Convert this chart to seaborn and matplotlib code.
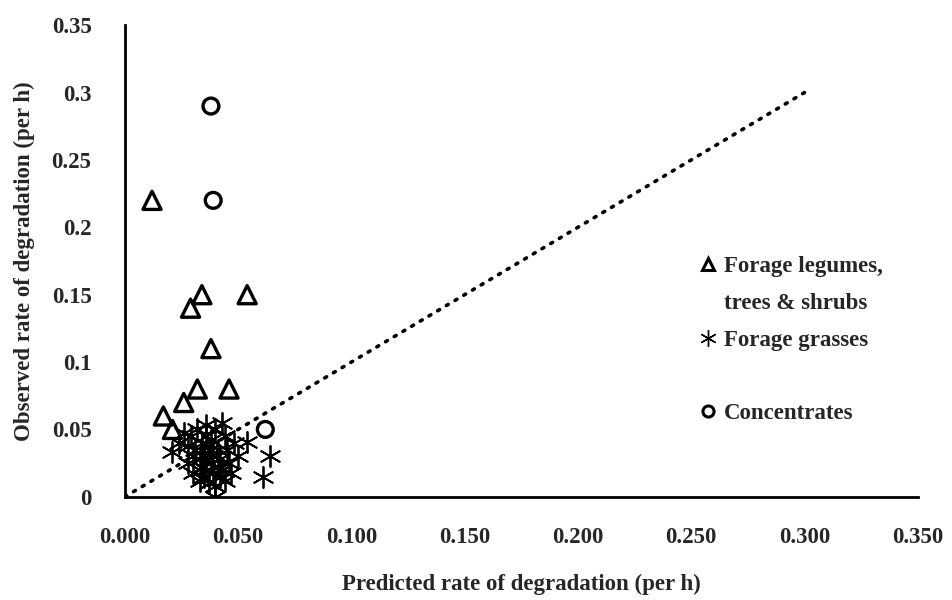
import numpy as np
import pandas as pd
import matplotlib
matplotlib.use("Agg")
import matplotlib.pyplot as plt
import seaborn as sns
from matplotlib.lines import Line2D

# data
legume_x = [0.012, 0.034, 0.029, 0.054, 0.038, 0.032, 0.046, 0.026, 0.017, 0.021]
legume_y = [0.22, 0.15, 0.14, 0.15, 0.11, 0.08, 0.08, 0.07, 0.06, 0.05]

conc_x = [0.038, 0.039, 0.062]
conc_y = [0.29, 0.22, 0.05]

grass_x = [0.021, 0.024, 0.026, 0.028, 0.029, 0.030, 0.031, 0.032, 0.033, 0.033,
           0.034, 0.034, 0.035, 0.035, 0.036, 0.036, 0.037, 0.037, 0.038, 0.038,
           0.039, 0.039, 0.040, 0.040, 0.041, 0.041, 0.042, 0.042, 0.043, 0.043,
           0.044, 0.045, 0.046, 0.047, 0.048, 0.050, 0.054, 0.061, 0.064, 0.040,
           0.036, 0.030, 0.044, 0.028]
grass_y = [0.033, 0.040, 0.047, 0.025, 0.045, 0.018, 0.035, 0.050, 0.028, 0.012,
           0.040, 0.022, 0.030, 0.015, 0.045, 0.020, 0.035, 0.010, 0.025, 0.042,
           0.018, 0.030, 0.008, 0.050, 0.022, 0.035, 0.015, 0.028, 0.055, 0.020,
           0.012, 0.035, 0.025, 0.018, 0.040, 0.030, 0.041, 0.015, 0.030, 0.000,
           0.053, 0.030, 0.045, 0.038]

line_x = [0.0, 0.3]
line_y = [0.0, 0.3]

x_ticks = [0.0, 0.05, 0.1, 0.15, 0.2, 0.25, 0.3, 0.35]
x_labels = ["0.000", "0.050", "0.100", "0.150", "0.200", "0.250", "0.300", "0.350"]
y_ticks = [0.0, 0.05, 0.1, 0.15, 0.2, 0.25, 0.3, 0.35]
y_labels = ["0", "0.05", "0.1", "0.15", "0.2", "0.25", "0.3", "0.35"]

sns.set_style("white")
plt.rcParams["font.family"] = ["Liberation Serif", "DejaVu Serif"]
plt.rcParams["font.weight"] = "bold"

fig = plt.figure(figsize=(9.53, 6), dpi=100)
ax = fig.add_axes([0.131, 0.172, 0.832, 0.786])

# 1:1 line
ax.plot(line_x, line_y, color="black", linewidth=2.6,
        linestyle=(0, (0.6, 2.2)), dash_capstyle="round", zorder=1)

star = (6, 2, 0)
sns.scatterplot(x=grass_x, y=grass_y, marker=star, s=230, color="black",
                linewidth=1.3, ax=ax, zorder=2)
sns.scatterplot(x=legume_x, y=legume_y, marker="^", s=170, facecolor="none",
                edgecolor="black", linewidth=2.4, ax=ax, zorder=3)
sns.scatterplot(x=conc_x, y=conc_y, marker="o", s=130, facecolor="none",
                edgecolor="black", linewidth=2.4, ax=ax, zorder=3)

ax.set_xlim(0, 0.35)
ax.set_ylim(0, 0.35)
ax.set_xticks(x_ticks)
ax.set_xticklabels(x_labels)
ax.set_yticks(y_ticks)
ax.set_yticklabels(y_labels)
ax.tick_params(length=0, labelsize=16.5)
ax.tick_params(axis="x", pad=22)
ax.tick_params(axis="y", pad=24)

for side in ["top", "right"]:
    ax.spines[side].set_visible(False)
for side in ["left", "bottom"]:
    ax.spines[side].set_color("black")
    ax.spines[side].set_linewidth(2)

ax.set_xlabel("Predicted rate of degradation (per h)", fontsize=16.5,
              fontweight="bold", labelpad=18)
ax.set_ylabel("Observed rate of degradation (per h)", fontsize=16.5,
              fontweight="bold", labelpad=12)

# legend, with the wrapped label split over two rows
handles = [
    Line2D([], [], marker="^", linestyle="none", markerfacecolor="none",
           markeredgecolor="black", markeredgewidth=2.2, markersize=8),
    Line2D([], [], linestyle="none"),
    Line2D([], [], marker=star, linestyle="none", color="black",
           markeredgewidth=1, markersize=12),
    Line2D([], [], linestyle="none"),
    Line2D([], [], marker="o", linestyle="none", markerfacecolor="none",
           markeredgecolor="black", markeredgewidth=2.2, markersize=8),
]
labels = ["Forage legumes,", "trees & shrubs", "Forage grasses", "", "Concentrates"]
ax.legend(handles, labels, loc="upper left", bbox_to_anchor=(0.722, 0.592),
          bbox_transform=fig.transFigure, frameon=False, fontsize=16.5,
          handlelength=0.7, handletextpad=0.35, labelspacing=0.68, borderpad=0)

fig.savefig("out.png", dpi=100)
